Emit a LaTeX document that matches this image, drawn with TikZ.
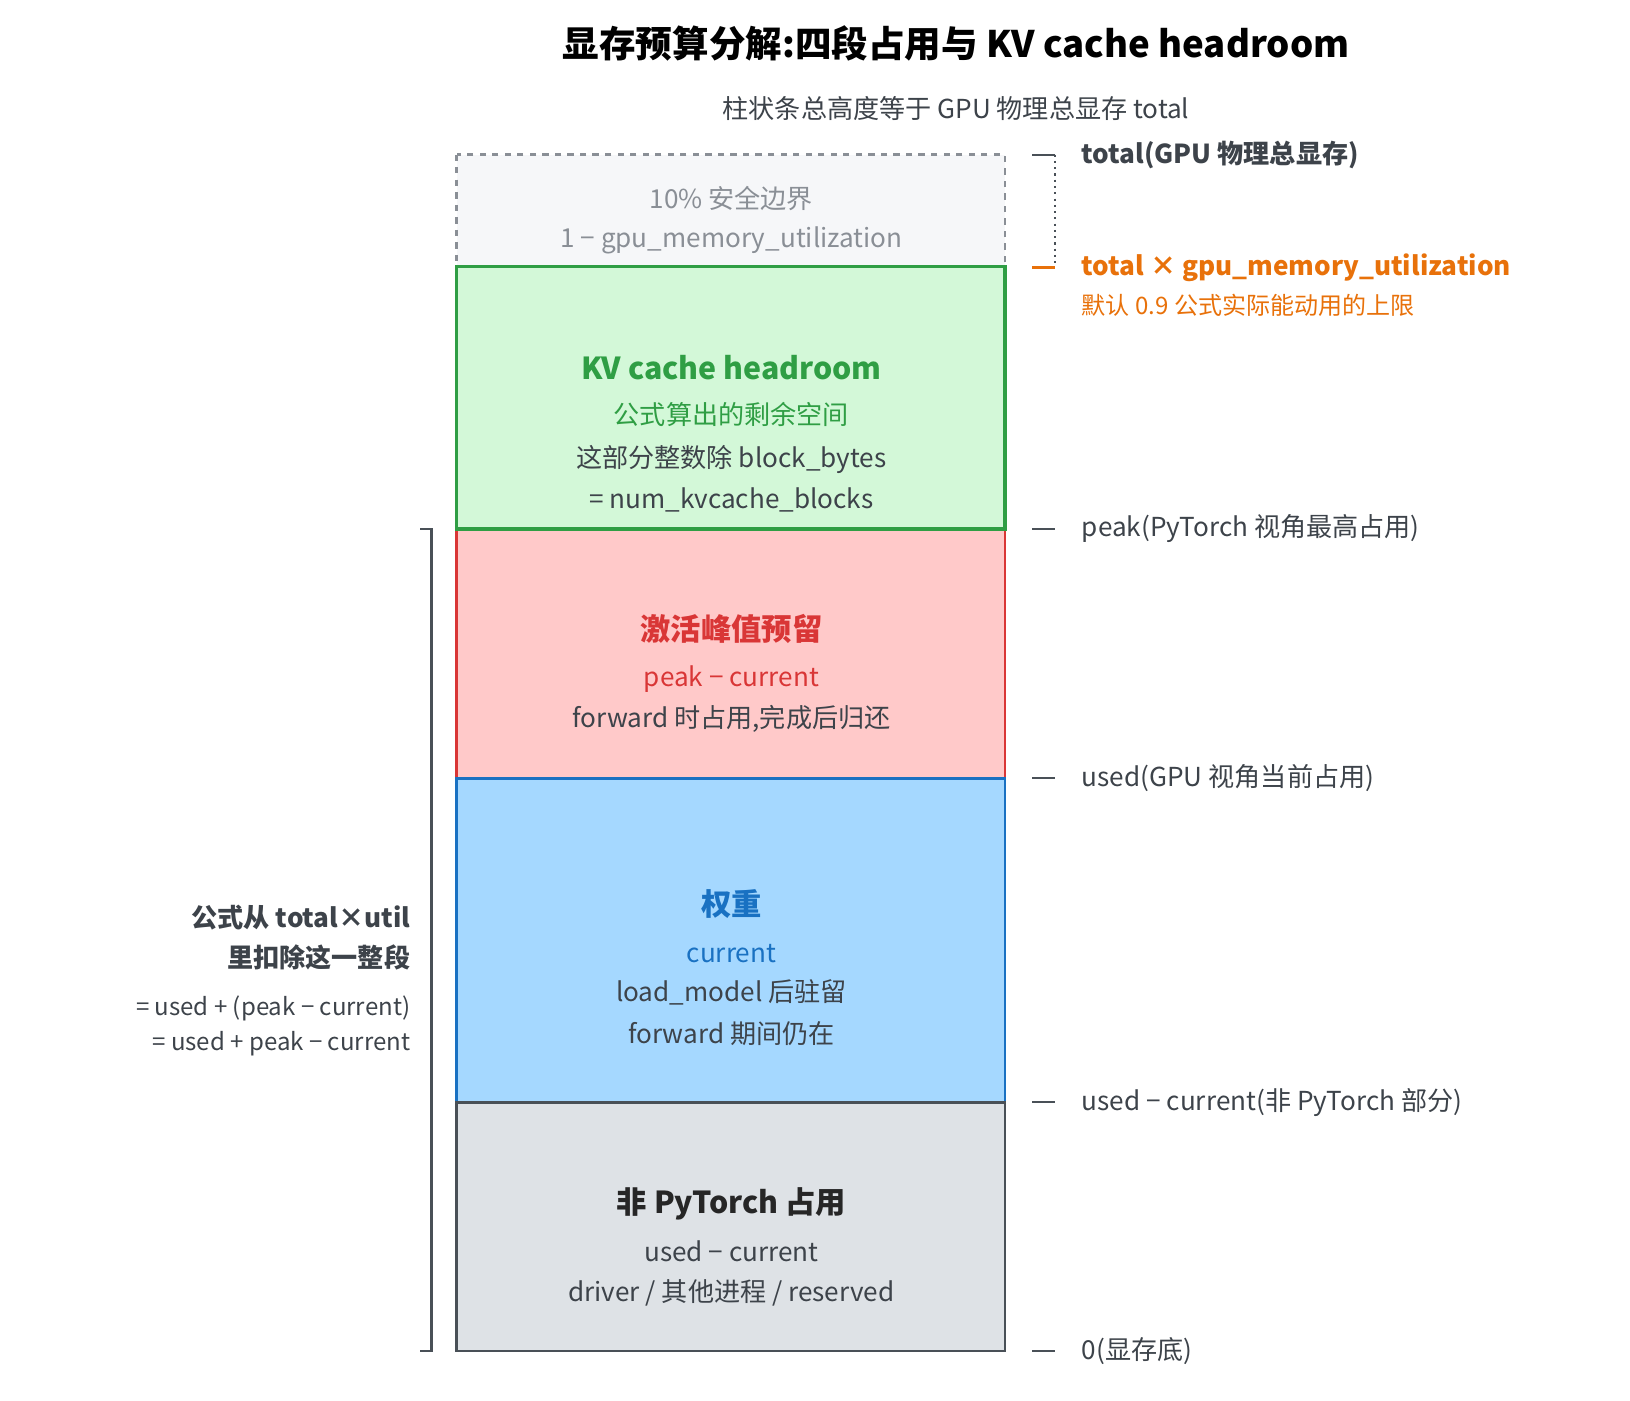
\documentclass[tikz,border=0pt]{standalone}
\usepackage{fontspec}
\setmainfont{Noto Sans CJK SC}
\begin{document}
\begin{tikzpicture}[x=0.5pt,y=-0.5pt,
  t/.style={font=\fontsize{12.5}{14}\selectfont,text=txt,inner sep=0},
  h/.style={font=\fontsize{14.5}{16}\selectfont\bfseries,inner sep=0},
  lab/.style={t,anchor=west},
  rlab/.style={t,anchor=east},
  tick/.style={draw=axis,line width=1pt},
  bar/.style={line width=1.2pt}]
\definecolor{txt}{HTML}{3D434A}
\definecolor{axis}{HTML}{495057}
\definecolor{gr}{HTML}{2F9E44}
\definecolor{rd}{HTML}{D93636}
\definecolor{bl}{HTML}{1971C2}
\definecolor{og}{HTML}{E8710A}
\definecolor{fgr}{HTML}{D3F8D8}
\definecolor{frd}{HTML}{FFC9C9}
\definecolor{fbl}{HTML}{A5D8FF}
\definecolor{fgy}{HTML}{DEE2E6}
\definecolor{fsf}{HTML}{F6F7F9}
\definecolor{dgy}{HTML}{8A8F96}
\useasboundingbox (0,0) rectangle (1560,1340);
\node[font=\fontsize{17.5}{20}\selectfont\bfseries,inner sep=0] (title) at (915,42) {显存预算分解:四段占用与 KV cache headroom};
\node[t] (sub) at (915,104) {柱状条总高度等于 GPU 物理总显存 total};
% bars
\draw[bar,dashed,draw=dgy,fill=fsf] (437,148) rectangle (962,255);
\node[t,text=dgy] (s1) at (700,190) {10\% 安全边界};
\node[t,text=dgy] (s2) at (700,230) {1 − gpu\_memory\_utilization};
\draw[bar,fill=frd,draw=rd] (437,506) rectangle (962,745);
\draw[bar,fill=fbl,draw=bl] (437,745) rectangle (962,1055);
\draw[bar,fill=fgy,draw=axis] (437,1055) rectangle (962,1293);
\draw[fill=fgr,draw=gr,line width=1.8pt] (437,255) rectangle (962,506);
\node[h,text=gr] (k1) at (700,352) {KV cache headroom};
\node[t,text=gr] (k2) at (700,397) {公式算出的剩余空间};
\node[t] (k3) at (700,440) {这部分整数除 block\_bytes};
\node[t] (k4) at (700,478) {= num\_kvcache\_blocks};
\node[h,text=rd] (r1) at (700,602) {激活峰值预留};
\node[t,text=rd] (r2) at (700,650) {peak − current};
\node[t] (r3) at (700,688) {forward 时占用,完成后归还};
\node[h,text=bl] (b1) at (700,865) {权重};
\node[t,text=bl] (b2) at (700,913) {current};
\node[t] (b3) at (700,950) {load\_model 后驻留};
\node[t] (b4) at (700,989) {forward 期间仍在};
\node[h,text=black!85] (g1) at (700,1152) {非 PyTorch 占用};
\node[t] (g2) at (700,1198) {used − current};
\node[t] (g3) at (700,1237) {driver / 其他进程 / reserved};
% right axis
\draw[tick] (988,148) -- (1010,148);
\draw[tick,dotted] (1010,148) -- (1010,255);
\draw[draw=og,line width=1.5pt] (988,256) -- (1010,256);
\foreach \y in {506,745,1055,1293} \draw[tick] (988,\y) -- (1010,\y);
\node[lab,font=\fontsize{12.5}{14}\selectfont\bfseries] (l0) at (1035,148) {total(GPU 物理总显存)};
\node[lab,text=og,font=\fontsize{12.5}{14}\selectfont\bfseries] (l1) at (1035,256) {total × gpu\_memory\_utilization};
\node[lab,text=og,font=\fontsize{11.5}{13}\selectfont] (l1b) at (1035,292) {默认 0.9 公式实际能动用的上限};
\node[lab] (l2) at (1035,506) {peak(PyTorch 视角最高占用)};
\node[lab] (l3) at (1035,745) {used(GPU 视角当前占用)};
\node[lab] (l4) at (1035,1055) {used − current(非 PyTorch 部分)};
\node[lab] (l5) at (1035,1293) {0(显存底)};
% left bracket
\draw[tick] (402,506) -- (413,506) -- (413,1293) -- (402,1293);
\node[rlab,font=\fontsize{12.5}{14}\selectfont\bfseries] (f1) at (393,878) {公式从 total×util};
\node[rlab,font=\fontsize{12.5}{14}\selectfont\bfseries] (f2) at (393,916) {里扣除这一整段};
\node[rlab,font=\fontsize{11.5}{13}\selectfont] (f3) at (393,965) {= used + (peak − current)};
\node[rlab,font=\fontsize{11.5}{13}\selectfont] (f4) at (393,999) {= used + peak − current};
\end{tikzpicture}
\end{document}
